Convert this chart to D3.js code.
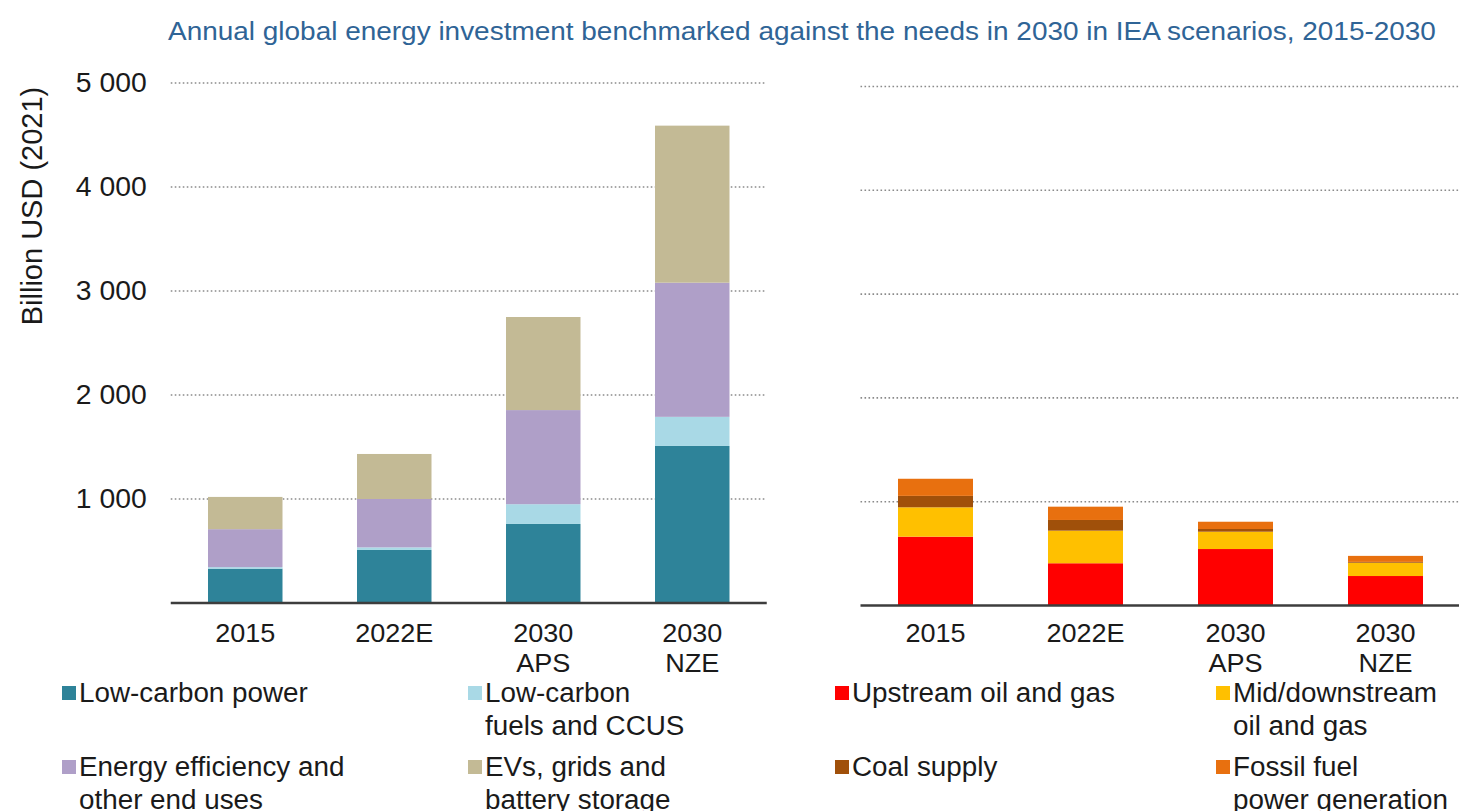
<!DOCTYPE html>
<html>
<head>
<meta charset="utf-8">
<script src="https://cdn.jsdelivr.net/npm/d3@7/dist/d3.min.js"></script>
<style>
  html, body { margin: 0; padding: 0; background: #fff; }
  svg text { font-family: "Liberation Sans", Arial, sans-serif; }
</style>
</head>
<body>
<svg id="chart" width="1459" height="811"></svg>
<script>
// ---- data ----
const categories = ["2015", "2022E", "2030 APS", "2030 NZE"];
const categoryLines = [["2015"], ["2022E"], ["2030", "APS"], ["2030", "NZE"]];
const tickValues = [1000, 2000, 3000, 4000, 5000];

const cleanSeries = ["Low-carbon power", "Low-carbon fuels and CCUS", "Energy efficiency and other end uses", "EVs, grids and battery storage"];
const lowCarbonPower = [330, 510, 760, 1510];
const lowCarbonFuels = [15, 25, 190, 280];
const efficiency = [365, 465, 905, 1290];
const evsGrids = [310, 433, 895, 1510];

const fossilSeries = ["Upstream oil and gas", "Mid/downstream oil and gas", "Coal supply", "Fossil fuel power generation"];
const upstream = [663, 407, 544, 284];
const midDownstream = [283, 314, 167, 128];
const coalSupply = [110, 103, 26, 8];
const fossilPower = [165, 128, 70, 58];

const cleanColors = ["#2E8399", "#A9D9E6", "#AF9FC8", "#C3BA95"];
const fossilColors = ["#FF0000", "#FFC000", "#A0500A", "#E8700F"];

const legendLabels = {
  "Low-carbon power": ["Low-carbon power"],
  "Low-carbon fuels and CCUS": ["Low-carbon", "fuels and CCUS"],
  "Energy efficiency and other end uses": ["Energy efficiency and", "other end uses"],
  "EVs, grids and battery storage": ["EVs, grids and", "battery storage"],
  "Upstream oil and gas": ["Upstream oil and gas"],
  "Mid/downstream oil and gas": ["Mid/downstream", "oil and gas"],
  "Coal supply": ["Coal supply"],
  "Fossil fuel power generation": ["Fossil fuel", "power generation"]
};

// ---- drawing ----
const svg = d3.select("#chart");
const fmt = d3.formatLocale({decimal: ".", thousands: " ", grouping: [3], currency: ["", ""]}).format(",");
const TEXT = "#1a1a1a";

function stretch(sel, f) {
  sel.each(function() {
    const len = this.getComputedTextLength();
    d3.select(this).attr("textLength", len * f).attr("lengthAdjust", "spacingAndGlyphs");
  });
}

function panel(opts) {
  const {x0, x1, yBase, yTop, series, arrays, colors, showY} = opts;
  const g = svg.append("g");
  const x = d3.scaleBand().domain(categories).range([x0, x1]).paddingInner(0.5).paddingOuter(0.25);
  const y = d3.scaleLinear().domain([0, 5000]).range([yBase, yTop]);

  // gridlines
  g.append("g").selectAll("line").data(tickValues).join("line")
    .attr("x1", x0).attr("x2", x1)
    .attr("y1", d => y(d)).attr("y2", d => y(d))
    .attr("stroke", "#8a8a8a").attr("stroke-width", 1.6)
    .attr("stroke-dasharray", "1.6,2.4");

  if (showY) {
    const ax = g.append("g").attr("transform", `translate(${x0},0)`)
      .call(d3.axisLeft(y).tickValues(tickValues).tickFormat(fmt).tickSize(0).tickPadding(24));
    ax.select(".domain").remove();
    const tt = ax.selectAll("text").attr("font-size", 27).attr("fill", TEXT)
      .style("font-family", '"Liberation Sans", Arial, sans-serif');
    stretch(tt, 1.05);
  }

  // stacked bars
  const rows = categories.map((c, i) => {
    const r = {cat: c};
    series.forEach((s, k) => r[s] = arrays[k][i]);
    return r;
  });
  const stacked = d3.stack().keys(series)(rows);
  g.append("g").selectAll("g").data(stacked).join("g")
    .attr("fill", (d, k) => colors[k])
    .selectAll("rect").data(d => d).join("rect")
    .attr("x", d => x(d.data.cat))
    .attr("width", x.bandwidth())
    .attr("y", d => y(d[1]))
    .attr("height", d => y(d[0]) - y(d[1]));

  // baseline
  g.append("line").attr("x1", x0).attr("x2", x1)
    .attr("y1", y(0)).attr("y2", y(0))
    .attr("stroke", "#3d3d3d").attr("stroke-width", 2.5);

  // category labels (one text per line)
  const lines = [];
  categories.forEach((c, i) => categoryLines[i].forEach((ln, j) => lines.push({c, ln, j})));
  const lab = g.append("g").selectAll("text").data(lines).join("text")
    .attr("x", d => x(d.c) + x.bandwidth() / 2)
    .attr("y", d => 642 + d.j * 30)
    .attr("text-anchor", "middle")
    .attr("font-size", 26).attr("fill", TEXT)
    .text(d => d.ln);
  stretch(lab, 1.04);
}

panel({x0: 170.75, x1: 766.75, yBase: 603, yTop: 83, series: cleanSeries,
  arrays: [lowCarbonPower, lowCarbonFuels, efficiency, evsGrids], colors: cleanColors, showY: true});
panel({x0: 860.5, x1: 1460.5, yBase: 605.5, yTop: 86.5, series: fossilSeries,
  arrays: [upstream, midDownstream, coalSupply, fossilPower], colors: fossilColors, showY: false});

// y-axis title
svg.append("text")
  .attr("transform", "translate(42,206) rotate(-90)")
  .attr("text-anchor", "middle")
  .attr("font-size", 29).attr("fill", TEXT)
  .text("Billion USD (2021)");

// title
const title = svg.append("text")
  .attr("x", 168).attr("y", 40)
  .attr("font-size", 26).attr("fill", "#2F6496")
  .text("Annual global energy investment benchmarked against the needs in 2030 in IEA scenarios, 2015-2030");
stretch(title, 1.075);

// legend
const legendItems = [
  {name: cleanSeries[0], color: cleanColors[0], x: 62, y: 702},
  {name: cleanSeries[1], color: cleanColors[1], x: 468, y: 702},
  {name: cleanSeries[2], color: cleanColors[2], x: 62, y: 776},
  {name: cleanSeries[3], color: cleanColors[3], x: 468, y: 776},
  {name: fossilSeries[0], color: fossilColors[0], x: 835, y: 702},
  {name: fossilSeries[1], color: fossilColors[1], x: 1216, y: 702},
  {name: fossilSeries[2], color: fossilColors[2], x: 835, y: 776},
  {name: fossilSeries[3], color: fossilColors[3], x: 1216, y: 776}
];
const lg = svg.append("g").selectAll("g").data(legendItems).join("g");
lg.append("rect").attr("x", d => d.x).attr("y", d => d.y - 16).attr("width", 14).attr("height", 14)
  .attr("fill", d => d.color);
const legendLines = [];
legendItems.forEach(d => legendLabels[d.name].forEach((ln, j) => legendLines.push({x: d.x + 17, y: d.y + j * 33, ln})));
const lt = svg.append("g").selectAll("text").data(legendLines).join("text")
  .attr("x", d => d.x).attr("y", d => d.y)
  .attr("font-size", 27).attr("fill", TEXT)
  .text(d => d.ln);
stretch(lt, 1.03);
</script>
</body>
</html>
